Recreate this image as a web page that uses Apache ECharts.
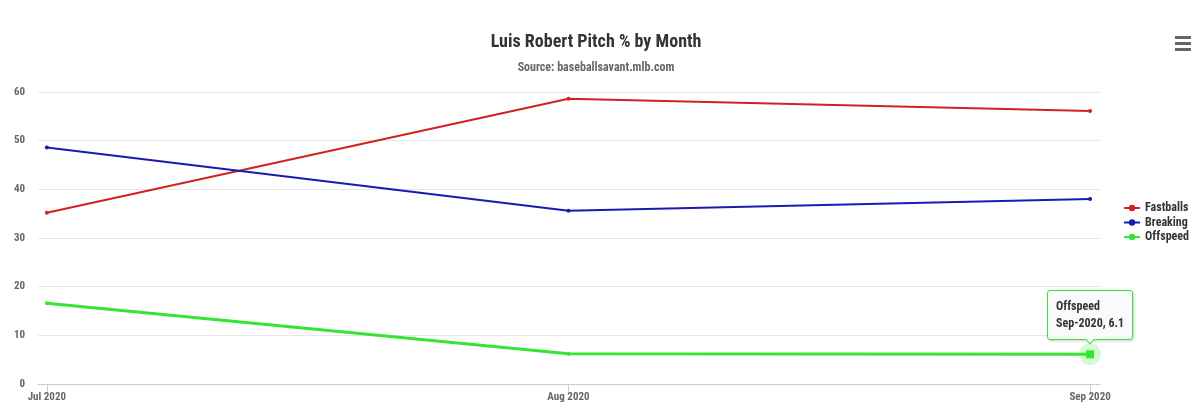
<!DOCTYPE html>
<html><head><meta charset="utf-8">
<script src="https://cdn.jsdelivr.net/npm/echarts@6/dist/echarts.min.js"></script>
<style>html,body{margin:0;padding:0;background:#fff}#c{width:1200px;height:417px}</style>
</head><body><div id="c"></div>
<script>
const FONT = "'Roboto Condensed','Liberation Sans Narrow',Roboto,sans-serif";
const categories = ['Jul 2020', 'Aug 2020', 'Sep 2020'];
const tooltipCats = ['Jul-2020', 'Aug-2020', 'Sep-2020'];
const fastballs = [35.2, 58.6, 56.1];
const breaking = [48.6, 35.6, 38.0];
const offspeed = [16.6, 6.2, 6.1];
const yTicks = [0, 10, 20, 30, 40, 50, 60];

const toPts = arr => arr.map((v, i) => [i, v]);
const chart = echarts.init(document.getElementById('c'), null, {renderer: 'canvas'});
const idx = categories.map((_, i) => i);

chart.setOption({
  animation: false,
  textStyle: {fontFamily: FONT},
  title: {
    text: 'Luis Robert Pitch % by Month',
    subtext: 'Source: baseballsavant.mlb.com',
    left: 591, textAlign: 'center', top: 28, itemGap: 11,
    textStyle: {fontFamily: FONT, fontSize: 18, fontWeight: 'bold', color: '#333'},
    subtextStyle: {fontFamily: FONT, fontSize: 12, fontWeight: 'bold', color: '#666'}
  },
  grid: {left: 38, right: 100, top: 92, bottom: 33},
  xAxis: {
    type: 'value', min: -0.017, max: 2.019,
    axisLine: {show: true, lineStyle: {color: '#cccccc'}},
    axisTick: {show: true, customValues: idx, length: 8, lineStyle: {color: '#cccccc'}},
    axisLabel: {customValues: idx, formatter: v => categories[Math.round(v)], color: '#666', fontSize: 11, fontWeight: 'bold', fontFamily: FONT, margin: 8},
    splitLine: {show: false}
  },
  yAxis: {
    type: 'value', min: yTicks[0], max: yTicks[yTicks.length - 1], interval: 10,
    axisLine: {show: false}, axisTick: {show: false},
    axisLabel: {color: '#666', fontSize: 11, fontWeight: 'bold', fontFamily: FONT, margin: 13},
    splitLine: {lineStyle: {color: '#e6e6e6'}}
  },
  legend: {
    orient: 'vertical', right: 6, top: 197, itemGap: 2.5,
    itemWidth: 16, itemHeight: 8,
    data: ['Fastballs', 'Breaking', 'Offspeed'],
    textStyle: {fontFamily: FONT, fontSize: 12, fontWeight: 'bold', color: '#333'}
  },
  tooltip: {
    trigger: 'item', alwaysShowContent: true, triggerOn: 'none',
    position: 'top',
    backgroundColor: 'rgba(250,250,250,0.95)',
    borderColor: '#33e633', borderWidth: 1, padding: [7, 8],
    textStyle: {fontFamily: FONT, fontSize: 12, fontWeight: 'bold', color: '#333'},
    extraCssText: 'box-shadow:1px 1px 3px rgba(0,0,0,0.2);border-radius:3px;line-height:17px;',
    formatter: p => {
      const v = Array.isArray(p.value) ? p.value : p.data.value;
      return p.seriesName + '<br/>' + tooltipCats[v[0]] + ', ' + v[1];
    }
  },
  series: [
    {name: 'Fastballs', type: 'line', data: toPts(fastballs), color: '#d42020', symbol: 'circle', symbolSize: 4, lineStyle: {width: 2}},
    {name: 'Breaking', type: 'line', data: toPts(breaking), color: '#1a1ab0', symbol: 'circle', symbolSize: 4, lineStyle: {width: 2}},
    {name: 'Offspeed', type: 'line', data: toPts(offspeed).map((d, i) => i === offspeed.length - 1 ? {value: d, symbol: 'rect', symbolSize: 8} : d),
      color: '#33e633', symbol: 'circle', symbolSize: 4, lineStyle: {width: 3}},
    {name: 'halo', type: 'scatter', data: [[offspeed.length - 1, offspeed[offspeed.length - 1]]], symbolSize: 22, silent: true,
      itemStyle: {color: 'rgba(51,230,51,0.25)'}, z: 1, tooltip: {show: false}}
  ],
  graphic: [
    {type: 'rect', left: 1175, top: 36, shape: {width: 16, height: 3}, style: {fill: '#666'}},
    {type: 'rect', left: 1175, top: 42, shape: {width: 16, height: 3}, style: {fill: '#666'}},
    {type: 'rect', left: 1175, top: 48, shape: {width: 16, height: 3}, style: {fill: '#666'}}
  ]
});
chart.dispatchAction({type: 'showTip', seriesIndex: 2, dataIndex: offspeed.length - 1});
</script></body></html>
